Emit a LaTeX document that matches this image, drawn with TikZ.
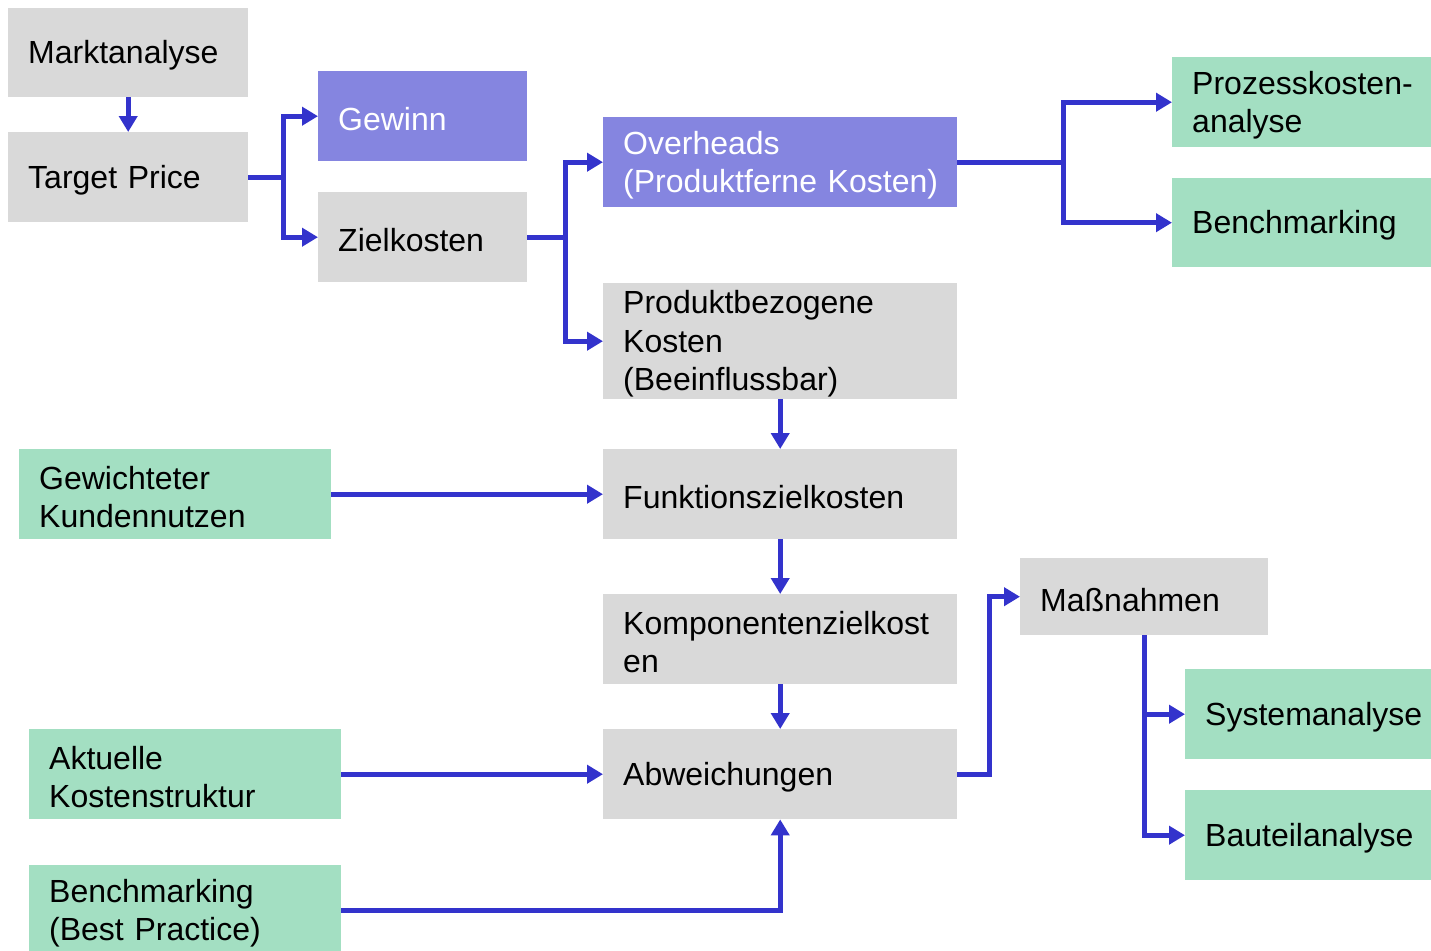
\documentclass[tikz,border=0pt]{standalone}
\usepackage{fontspec}
\setmainfont{Liberation Sans}
\usetikzlibrary{arrows.meta}
\definecolor{boxgray}{HTML}{D9D9D9}
\definecolor{boxviolet}{HTML}{8585E0}
\definecolor{boxgreen}{HTML}{A3DFC2}
\definecolor{linkblue}{HTML}{3333CC}
\newcommand{\lift}{\rule{0pt}{29pt}}
\begin{document}
\begin{tikzpicture}[x=1pt,y=-1pt,
  every node/.style={font=\fontsize{32}{38.5}\selectfont},
  card/.style 2 args={anchor=north west, inner xsep=20pt, inner ysep=0pt,
    minimum width=#1, minimum height=#2, text width=#1-40pt, align=left},
  grey/.style={fill=boxgray, text=black},
  violet/.style={fill=boxviolet, text=white},
  green/.style={fill=boxgreen, text=black},
  link/.style={draw=linkblue, line width=5pt, line join=miter,
    -{Triangle[length=16pt,width=18pt]}}]
\useasboundingbox (0,0) rectangle (1431,950);

% left column
\node[card={240pt}{89pt}, grey] (markt) at (8,8) {\lift Marktanalyse};
\node[card={240pt}{90pt}, grey] (tp) at (8,132) {\lift Target Price};
\node[card={312pt}{90pt}, green] (kund) at (19,449) {\lift Gewichteter\\Kundennutzen};
\node[card={312pt}{90pt}, green] (akt) at (29,729) {\lift Aktuelle\\Kostenstruktur};
\node[card={312pt}{90pt}, green] (bbp) at (29,865) {\lift Benchmarking\\(Best Practice)};

% second column
\node[card={209pt}{90pt}, violet] (gew) at (318,71) {\lift Gewinn};
\node[card={209pt}{90pt}, grey] (ziel) at (318,192) {\lift Zielkosten};

% central column
\node[card={354pt}{90pt}, violet] (ovh) at (603,117) {\lift Overheads\\\mbox{(Produktferne Kosten)}};
\node[card={354pt}{116pt}, grey] (prod) at (603,283) {\lift Produktbezogene\\Kosten\\(Beeinflussbar)};
\node[card={354pt}{90pt}, grey] (funk) at (603,449) {\lift Funktionszielkosten};
\node[card={354pt}{90pt}, grey] (komp) at (603,594) {\lift Komponentenzielkost\\en};
\node[card={354pt}{90pt}, grey] (abw) at (603,729) {\lift Abweichungen};

% right side
\node[card={259pt}{90pt}, green] (proz) at (1172,57) {\lift\mbox{Prozesskosten-}\\analyse};
\node[card={259pt}{89pt}, green] (bench) at (1172,178) {\lift Benchmarking};
\node[card={248pt}{77pt}, grey] (mass) at (1020,558) {\lift Maßnahmen};
\node[card={246pt}{90pt}, green] (sys) at (1185,669) {\lift Systemanalyse};
\node[card={246pt}{90pt}, green] (bau) at (1185,790) {\lift Bauteilanalyse};

% connectors
\draw[link] (markt.south) -- (tp.north);
\draw[link] (tp.east) -- ++(35,0) |- (gew.west);
\draw[link] (tp.east) -- ++(35,0) |- (ziel.west);
\draw[link] (ziel.east) -- ++(38,0) |- (ovh.west);
\draw[link] (ziel.east) -- ++(38,0) |- (prod.west);
\draw[link] (ovh.east) -- ++(106,0) |- (proz.west);
\draw[link] (ovh.east) -- ++(106,0) |- (bench.west);
\draw[link] (prod.south) -- (funk.north);
\draw[link] (kund.east) -- (funk.west);
\draw[link] (funk.south) -- (komp.north);
\draw[link] (komp.south) -- (abw.north);
\draw[link] (akt.east) -- (abw.west);
\draw[link] (bbp.east) -| (abw.south);
\draw[link] (abw.east) -- ++(32,0) |- (mass.west);
\draw[link] (mass.south) |- (sys.west);
\draw[link] (mass.south) |- (bau.west);
\end{tikzpicture}
\end{document}
